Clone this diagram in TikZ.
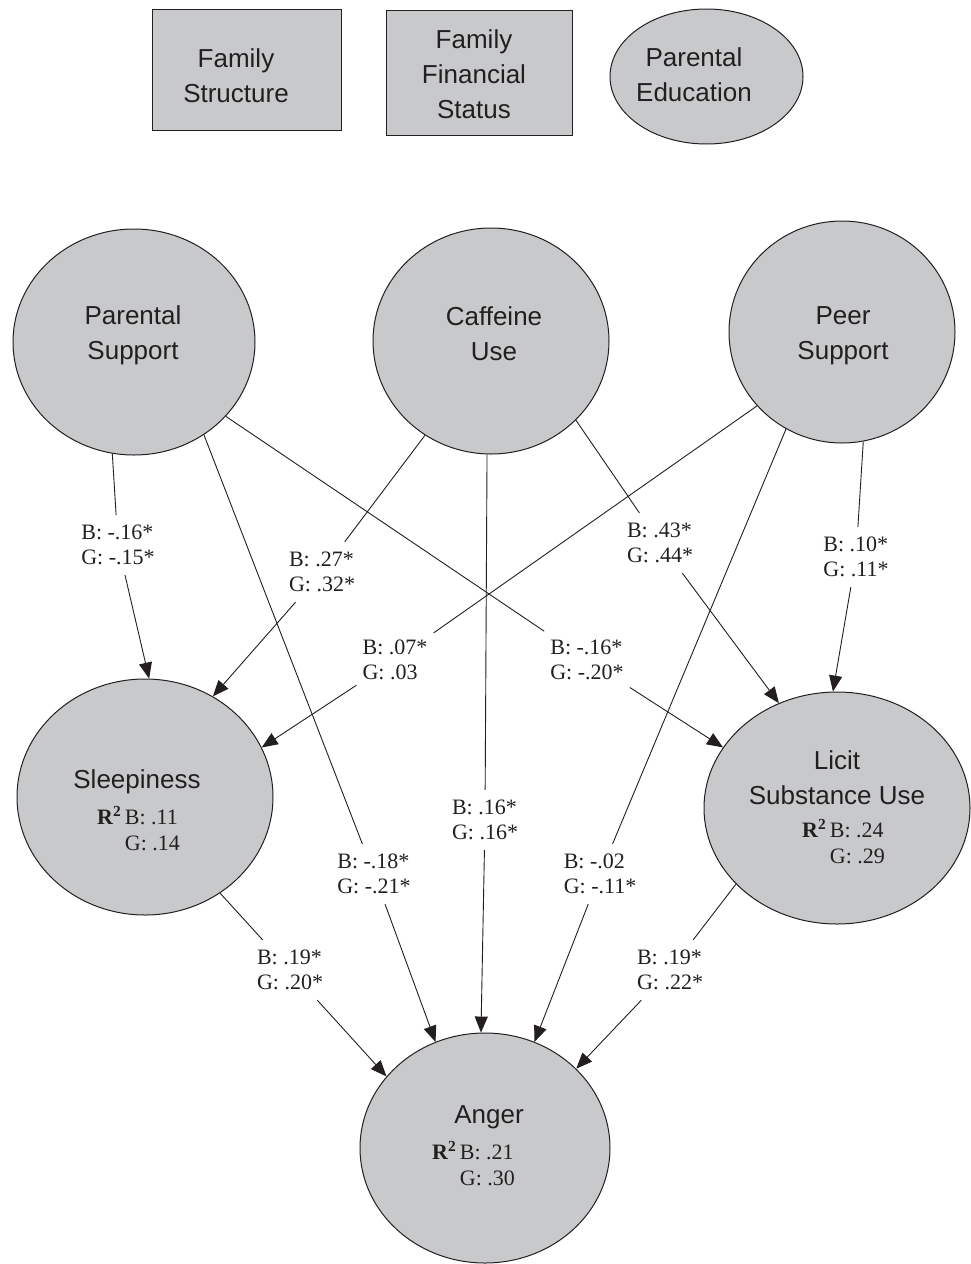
\documentclass[tikz,border=0pt]{standalone}
\usepackage{fontspec}
\setmainfont{Liberation Serif}
\setsansfont{Liberation Sans}
\usetikzlibrary{arrows.meta,shapes.geometric}
\definecolor{nodefill}{RGB}{200,201,203}
\definecolor{ink}{RGB}{35,31,32}
\begin{document}
\begin{tikzpicture}[x=1pt,y=-1pt,
  latent/.style={ellipse, draw=ink, fill=nodefill, line width=1pt, inner sep=0pt},
  obsbox/.style={rectangle, draw=ink, fill=nodefill, line width=1pt, inner sep=0pt},
  sanstxt/.style={font=\sffamily\fontsize{26}{35}\selectfont, text=ink, inner sep=0pt},
  rtwo/.style={font=\rmfamily\fontsize{22}{26}\selectfont, text=ink, inner sep=0pt},
  coef/.style={font=\rmfamily\fontsize{22}{25}\selectfont, text=ink, align=left, inner xsep=6pt, inner ysep=10pt},
  edge/.style={draw=ink, line width=0.9pt},
  arr/.style={edge, -{Triangle[length=16pt,width=13pt]}}]
\useasboundingbox (0,0) rectangle (971,1264);
\fill[white] (0,0) rectangle (971,1264);

% top row
\node[obsbox, minimum width=189pt, minimum height=121pt] (fs) at (246.5,69.5) {};
\node[sanstxt, anchor=base] (fstxt) at (236,67) {\begin{tabular}[t]{@{}c@{}}Family\\Structure\end{tabular}};
\node[obsbox, minimum width=186pt, minimum height=125pt] (ffs) at (479,72.5) {};
\node[sanstxt, anchor=base] (ffstxt) at (474,48) {\begin{tabular}[t]{@{}c@{}}Family\\Financial\\Status\end{tabular}};
\node[latent, minimum width=193pt, minimum height=135pt] (pe) at (706.5,76.5) {};
\node[sanstxt, anchor=base] (petxt) at (694,66) {\begin{tabular}[t]{@{}c@{}}Parental\\Education\end{tabular}};

% exogenous
\node[latent, minimum width=242pt, minimum height=226pt] (ps) at (134,342) {};
\node[sanstxt, anchor=base] (pstxt) at (133,324) {\begin{tabular}[t]{@{}c@{}}Parental\\Support\end{tabular}};
\node[latent, minimum width=236pt, minimum height=226pt] (cu) at (491,341) {};
\node[sanstxt, anchor=base] (cutxt) at (494,325) {\begin{tabular}[t]{@{}c@{}}Caffeine\\Use\end{tabular}};
\node[latent, minimum width=226pt, minimum height=222pt] (pr) at (842,332) {};
\node[sanstxt, anchor=base] (prtxt) at (843,324) {\begin{tabular}[t]{@{}c@{}}Peer\\Support\end{tabular}};

% mediators
\node[latent, minimum width=256pt, minimum height=236pt] (sl) at (145,797) {};
\node[sanstxt, anchor=base] (sltxt) at (137,788) {Sleepiness};
\node[rtwo, anchor=base west] (slr) at (97,824) {\begin{tabular}[t]{@{}l@{\,}l@{}}\textbf{R\textsuperscript{2}}&B: .11\\&G: .14\end{tabular}};

\node[latent, minimum width=266pt, minimum height=232pt] (li) at (837,808) {};
\node[sanstxt, anchor=base] (litxt) at (837,769) {\begin{tabular}[t]{@{}c@{}}Licit\\Substance Use\end{tabular}};
\node[rtwo, anchor=base west] (lir) at (802,837) {\begin{tabular}[t]{@{}l@{\,}l@{}}\textbf{R\textsuperscript{2}}&B: .24\\&G: .29\end{tabular}};

% outcome
\node[latent, minimum width=250pt, minimum height=230pt] (an) at (485,1148) {};
\node[sanstxt, anchor=base] (antxt) at (489,1123) {Anger};
\node[rtwo, anchor=base west] (anr) at (432,1159) {\begin{tabular}[t]{@{}l@{\,}l@{}}\textbf{R\textsuperscript{2}}&B: .21\\&G: .30\end{tabular}};

% coefficient labels
\node[coef] (l1) at (118,545) {B: -.16*\\G: -.15*};
\node[coef] (l2) at (322,572) {B: .27*\\G: .32*};
\node[coef] (l3) at (395,660) {B: .07*\\G: .03};
\node[coef] (l4) at (587,660) {B: -.16*\\G: -.20*};
\node[coef] (l5) at (660,543) {B: .43*\\G: .44*};
\node[coef] (l6) at (856,557) {B: .10*\\G: .11*};
\node[coef] (l7) at (374,874) {B: -.18*\\G: -.21*};
\node[coef] (l8) at (485,820) {B: .16*\\G: .16*};
\node[coef] (l9) at (600,874) {B: -.02\\G: -.11*};
\node[coef] (l10) at (290,970) {B: .19*\\G: .20*};
\node[coef] (l11) at (670,970) {B: .19*\\G: .22*};

% paths
\draw[edge] (ps.259) -- (l1);  \draw[arr] (l1) -- (sl.88);
\draw[edge] (cu.235) -- (l2);  \draw[arr] (l2) -- (sl.56);
\draw[edge] (pr.221) -- (l3);  \draw[arr] (l3) -- (sl.23.5);
\draw[edge] (ps.321) -- (l4);  \draw[arr] (l4) -- (li.152);
\draw[edge] (cu.317) -- (l5);  \draw[arr] (l5) -- (li.119.3);
\draw[edge] (pr.281) -- (l6);  \draw[arr] (l6) -- (li.92);
\draw[edge] (ps.307) -- (l7);  \draw[arr] (l7) -- (an.115.3);
\draw[edge] (cu.268) -- (l8);  \draw[arr] (l8) -- (an.92.5);
\draw[edge] (pr.240.3) -- (l9); \draw[arr] (l9) -- (an.65.6);
\draw[edge] (sl.308.7) -- (l10); \draw[arr] (l10) -- (an.144.6);
\draw[edge] (li.217.4) -- (l11); \draw[arr] (l11) -- (an.41);
\end{tikzpicture}
\end{document}
